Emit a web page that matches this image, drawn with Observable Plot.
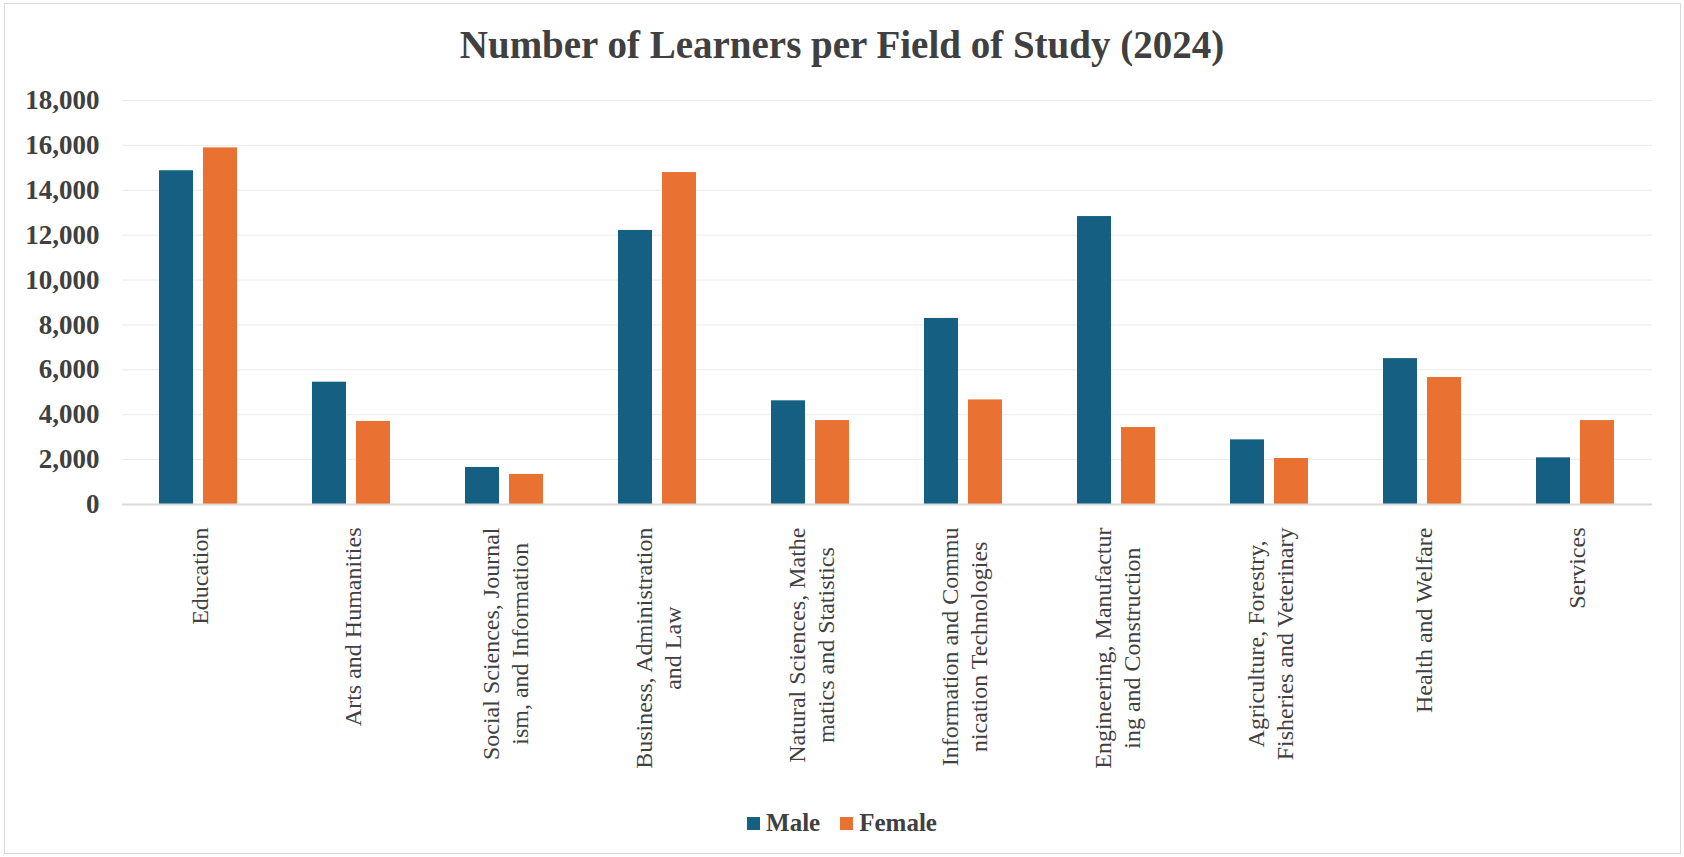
<!DOCTYPE html>
<html>
<head>
<meta charset="utf-8">
<script src="https://cdn.jsdelivr.net/npm/d3@7"></script>
<script src="https://cdn.jsdelivr.net/npm/@observablehq/plot@0.6"></script>
<style>
  html, body { margin: 0; padding: 0; background: #fff; }
  body { width: 1684px; height: 857px; position: relative; overflow: hidden; font-family: "Liberation Serif", serif; }
  #frame { position: absolute; left: 4px; top: 3px; width: 1677px; height: 851px; border: 1.5px solid #d9d9d9; box-sizing: border-box; }
  #title { position: absolute; left: 0; top: 25px; width: 1684px; text-align: center; font-weight: bold; font-size: 39px; line-height: 1; color: #404040; }
  #chart { position: absolute; left: 0; top: 0; }
  #legend { position: absolute; left: 0; top: 808px; width: 1684px; height: 30px; display: flex; justify-content: center; align-items: center; font-weight: bold; font-size: 25px; color: #404040; }
  .item { display: flex; align-items: center; margin: 0 10px; }
  .sw { width: 13px; height: 13px; margin-right: 6px; }
</style>
</head>
<body>
<div id="frame"></div>
<div id="chart"></div>
<div id="title">Number of Learners per Field of Study (2024)</div>
<div id="legend"></div>
<script>
const categories = [
  "Education",
  "Arts and Humanities",
  "Social Sciences, Journalism, and Information",
  "Business, Administration and Law",
  "Natural Sciences, Mathematics and Statistics",
  "Information and Communication Technologies",
  "Engineering, Manufacturing and Construction",
  "Agriculture, Forestry, Fisheries and Veterinary",
  "Health and Welfare",
  "Services"
];
const tickLabels = [
  "Education",
  "Arts and Humanities",
  "Social Sciences, Journal\nism, and Information",
  "Business, Administration\nand Law",
  "Natural Sciences, Mathe\nmatics and Statistics",
  "Information and Commu\nnication Technologies",
  "Engineering, Manufactur\ning and Construction",
  "Agriculture, Forestry,\nFisheries and Veterinary",
  "Health and Welfare",
  "Services"
];
const male   = [14870, 5450, 1650, 12210, 4620, 8290, 12830, 2880, 6500, 2080];
const female = [15890, 3700, 1340, 14790, 3740, 4660, 3430, 2050, 5660, 3740];
const seriesNames = ["Male", "Female"];
const seriesColors = ["#156082", "#E97132"];
const yTicks = [0, 2000, 4000, 6000, 8000, 10000, 12000, 14000, 16000, 18000];

const labelMap = new Map(categories.map((c, i) => [c, tickLabels[i]]));
const maleData = categories.map((c, i) => ({category: c, series: "Male", value: male[i]}));
const femaleData = categories.map((c, i) => ({category: c, series: "Female", value: female[i]}));

const plot = Plot.plot({
  width: 1684,
  height: 857,
  marginTop: 100,
  marginBottom: 353,
  marginLeft: 122,
  marginRight: 32,
  style: {fontFamily: "Liberation Serif", background: "transparent", overflow: "visible"},
  x: {type: "band", domain: categories, paddingInner: 0.49, paddingOuter: 0.245, label: null},
  y: {domain: [0, 18000], label: null},
  marks: [
    Plot.gridY(yTicks, {stroke: "#ebebeb", strokeOpacity: 1, strokeWidth: 1}),
    Plot.barY(maleData, {x: "category", y: "value", fill: seriesColors[0], insetLeft: 0, insetRight: 44}),
    Plot.barY(femaleData, {x: "category", y: "value", fill: seriesColors[1], insetLeft: 44, insetRight: 0}),
    Plot.ruleY([0], {stroke: "#d9d9d9", strokeWidth: 2}),
    Plot.axisY(yTicks, {tickSize: 0, tickPadding: 23, tickFormat: d3.format(","), fontSize: 27, fontWeight: "bold", fill: "#404040", label: null}),
    Plot.axisX({tickSize: 0, tickPadding: 23, tickRotate: -90, tickFormat: d => labelMap.get(d), fontSize: 24, fill: "#404040", label: null, lineHeight: 1.17, textAnchor: "end", lineAnchor: "middle"})
  ]
});
document.getElementById("chart").appendChild(plot);

// center wrapped lines of each category label against each other (as in the reference)
plot.querySelectorAll('g[aria-label="x-axis tick label"] text').forEach(t => {
  const spans = t.querySelectorAll("tspan");
  if (spans.length < 2) return;
  let m = 0;
  spans.forEach(s => { m = Math.max(m, s.getComputedTextLength()); });
  t.setAttribute("text-anchor", "middle");
  spans.forEach(s => s.setAttribute("x", -m / 2));
});

const legend = document.getElementById("legend");
seriesNames.forEach((n, i) => {
  const it = document.createElement("div");
  it.className = "item";
  const sw = document.createElement("div");
  sw.className = "sw";
  sw.style.background = seriesColors[i];
  const tx = document.createElement("span");
  tx.textContent = n;
  it.appendChild(sw); it.appendChild(tx);
  legend.appendChild(it);
});
</script>
</body>
</html>
